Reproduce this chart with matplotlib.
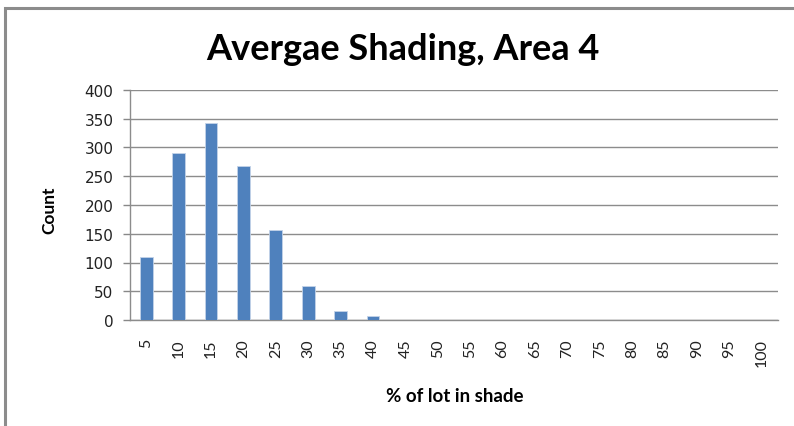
import matplotlib
matplotlib.use("Agg")
import matplotlib.pyplot as plt
from matplotlib.patches import Rectangle
import numpy as np

plt.rcParams['font.family'] = ['Lato', 'DejaVu Sans']

categories = ["5", "10", "15", "20", "25", "30", "35", "40", "45", "50",
              "55", "60", "65", "70", "75", "80", "85", "90", "95", "100"]
counts = [109, 291, 342, 267, 157, 60, 15, 7, 0, 0,
          0, 0, 0, 0, 0, 0, 0, 0, 0, 0]
y_ticks = [0, 50, 100, 150, 200, 250, 300, 350, 400]

W, H = 794, 427
fig = plt.figure(figsize=(W / 100, H / 100), dpi=100)

# chart frame
fig.patches.append(Rectangle((5 / W, -0.1), 1.2, 1 - 8.5 / H + 0.1,
                             transform=fig.transFigure, fill=False,
                             edgecolor='#8c8c8c', linewidth=2.2))

ax = fig.add_axes([130 / W, 1 - 321 / H, (778 - 130) / W, (321 - 91) / H])
x = np.arange(len(categories))
ax.bar(x, counts, width=0.4, color='#4f81bd', edgecolor='#c3d3e8', linewidth=0.6, zorder=3)

ax.set_xlim(-0.5, len(categories) - 0.5)
ax.set_ylim(0, 400)
ax.set_yticks(y_ticks)
ax.set_yticklabels([str(v) for v in y_ticks], fontsize=11, color='#222222',
                   family=['DejaVu Sans'])
ax.set_xticks(x)
ax.set_xticklabels(categories, rotation=90, fontsize=11.5, color='#222222')
ax.tick_params(axis='x', length=0, pad=13)
ax.tick_params(axis='y', length=5, color='#888888', width=1, pad=7)
ax.grid(axis='y', color='#8c8c8c', linewidth=1, zorder=0)
for side in ['top', 'right']:
    ax.spines[side].set_visible(False)
ax.spines['left'].set_color('#8c8c8c')
ax.spines['bottom'].set_color('#8c8c8c')
ax.spines['left'].set_linewidth(1)
ax.spines['bottom'].set_linewidth(1)

fig.text(403 / W, 1 - 60 / H, "Avergae Shading, Area 4", ha='center', va='baseline',
         fontsize=26, fontweight='bold', color='#000000')
fig.text(49 / W, 1 - 210 / H, "Count", ha='center', va='center', rotation=90,
         fontsize=12.5, fontweight='bold')
fig.text(455 / W, 1 - 397 / H, "% of lot in shade", ha='center', va='center',
         fontsize=13.5, fontweight='bold')

fig.savefig("out.png", dpi=100)
